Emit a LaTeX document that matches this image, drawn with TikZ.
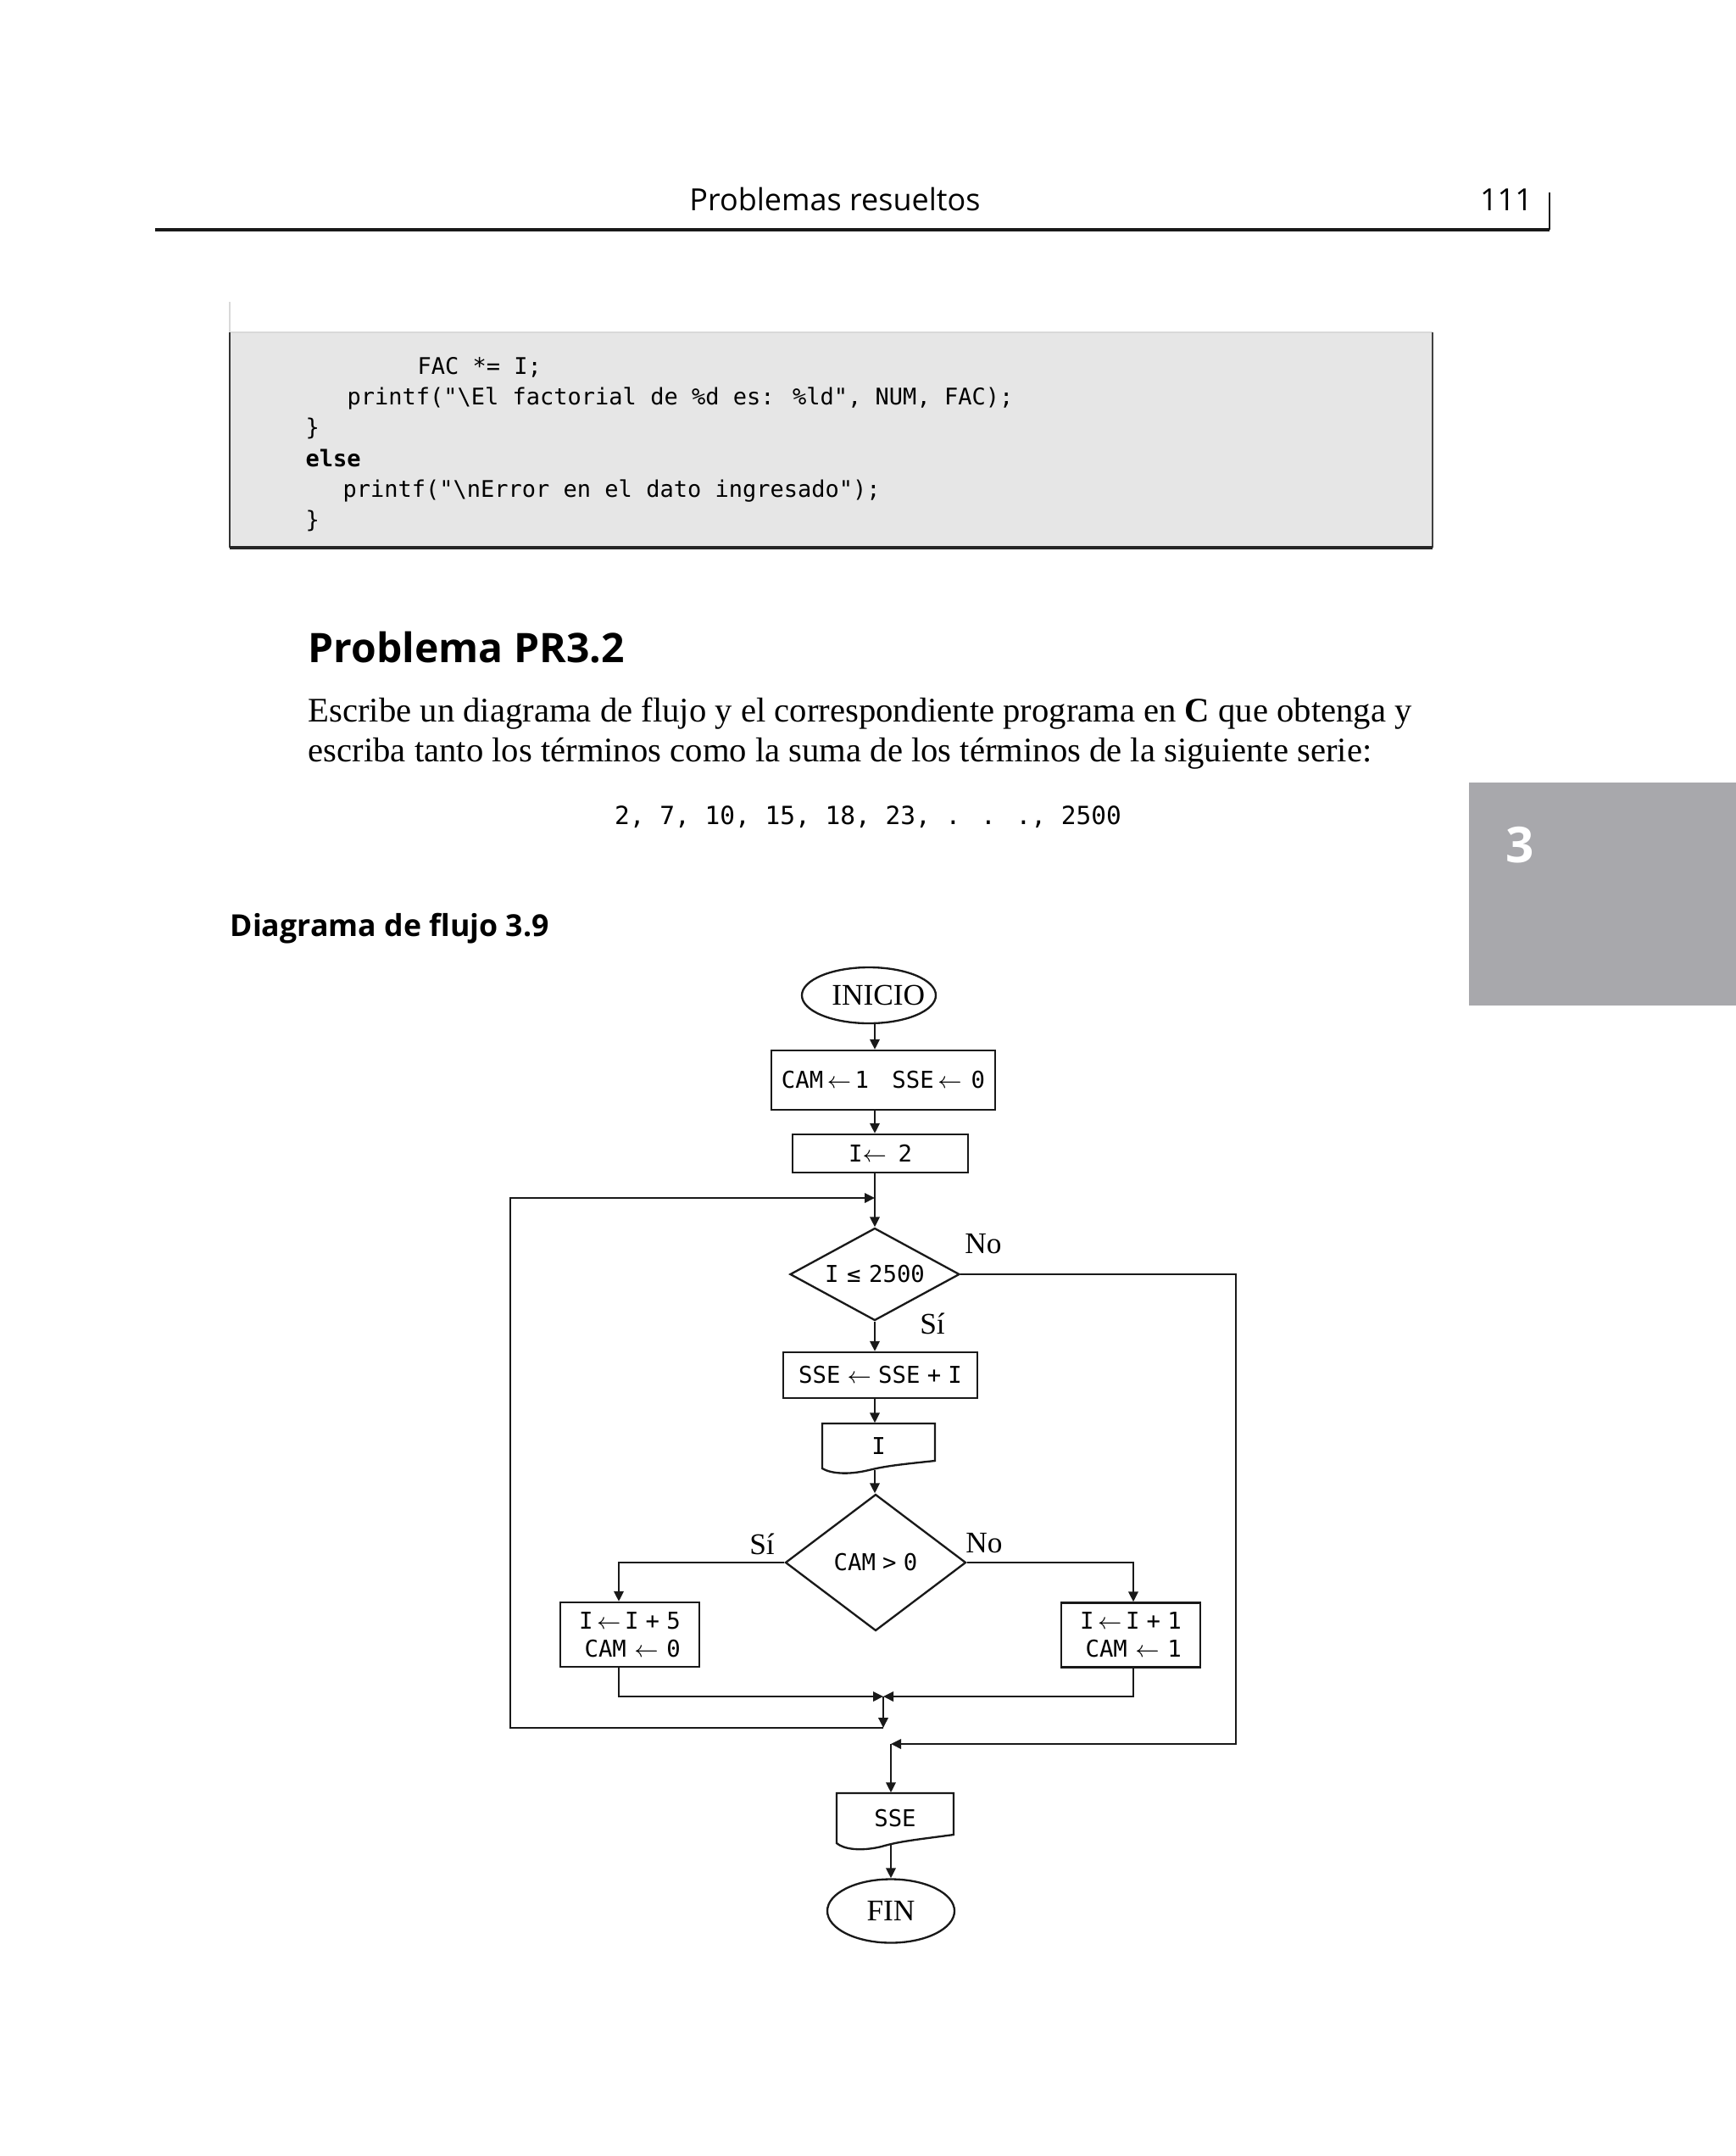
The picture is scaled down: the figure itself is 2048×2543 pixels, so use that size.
\documentclass[tikz,border=0pt]{standalone}
\usepackage{fontspec}
\setmainfont{Liberation Serif}
\newfontfamily\codefont{DejaVu Sans Mono}[Ligatures=TeXOff]
\newfontfamily\headfont{Open Sans}
\usetikzlibrary{shapes.geometric,arrows.meta,calc}
\definecolor{tabgray}{RGB}{168,168,172}
\definecolor{codebg}{RGB}{230,230,230}
\tikzset{
 flow/.style={line width=0.7pt, draw=black!90},
 arr/.style={flow, -{Triangle[length=3.6pt,width=3.4pt]}},
 procbox/.style={flow, draw, rectangle, inner sep=0pt, font=\codefont\fontsize{8.2}{9.9}\selectfont},
 term/.style={flow, draw, ellipse, inner sep=0pt, font=\fontsize{10.6}{12}\selectfont},
 decision/.style={flow, draw, diamond, inner sep=0pt, font=\codefont\fontsize{8.2}{9.9}\selectfont},
 docnode/.style={inner sep=0pt, font=\codefont\fontsize{8.2}{9.9}\selectfont},
 lbl/.style={inner sep=0pt, font=\fontsize{10.6}{12}\selectfont},
 codeline/.style={anchor=base west, inner sep=0pt, font=\codefont\fontsize{8.1}{10}\selectfont},
 bodytext/.style={anchor=base west, inner sep=0pt, font=\fontsize{12.2}{15}\selectfont},
}
\begin{document}
\begin{tikzpicture}[x=0.3pt,y=-0.3pt]
\useasboundingbox (0,0) rectangle (2048,2543);
% running head
\node[anchor=base, inner sep=0pt, font=\headfont\fontsize{10.8}{13}\selectfont] (hdr) at (985,248) {Problemas resueltos};
\node[anchor=base, inner sep=0pt, font=\headfont\fontsize{10.8}{13}\selectfont] (pg) at (1777,248) {111};
\draw[line width=1.2pt, black!90] (183,271) -- (1828,271);
\draw[line width=0.6pt, black!90] (1828,227) -- (1828,271);
% code box
\fill[codebg] (271,392) rectangle (1690,646);
\draw[line width=0.5pt, black!15] (271,356) -- (271,392) -- (1690,392);
\draw[line width=0.7pt, black!80] (271,392) -- (271,646);
\draw[line width=0.6pt, black!75] (1690,392) -- (1690,646);
\draw[line width=1.1pt, black!85] (271,646) -- (1690,646);
\node[codeline] (c1) at (492,441) {FAC *= I;};
\node[codeline] (c2) at (409,477) {printf("\textbackslash El factorial de \%d es: \%ld", NUM, FAC);};
\node[codeline] (c3) at (360,513) {\}};
\node[codeline, font=\codefont\bfseries\fontsize{8.1}{10}\selectfont] (c4) at (360,550) {else};
\node[codeline] (c5) at (404,586) {printf("\textbackslash nError en el dato ingresado");};
\node[codeline] (c6) at (360,622) {\}};
% heading and statement
\node[anchor=base west, inner sep=0pt, font=\headfont\bfseries\fontsize{14.4}{18}\selectfont] (ttl) at (363,781) {Problema PR3.2};
\node[bodytext] (p1) at (363,851) {Escribe un diagrama de flujo y el correspondiente programa en \textbf{C} que obtenga y};
\node[bodytext] (p2) at (363,898) {escriba tanto los términos como la suma de los términos de la siguiente serie:};
\node[anchor=base, inner sep=0pt, font=\codefont\fontsize{8.85}{10}\selectfont] (ser) at (1024,972) {2, 7, 10, 15, 18, 23, . . ., 2500};
\node[anchor=base west, inner sep=0pt, font=\headfont\bfseries\fontsize{10.7}{13}\selectfont] (dlbl) at (271,1104) {Diagrama de flujo 3.9};
% chapter tab
\fill[tabgray] (1733,923) rectangle (2048,1186);
\node[text=white, inner sep=0pt, font=\headfont\bfseries\fontsize{17.5}{20}\selectfont] (tabn) at (1793,997) {3};
% flowchart nodes
\coordinate (axis) at (1032,0);
\node[term, minimum width=47.4pt, minimum height=19.8pt] (inicio) at (1025,1174) {\makebox[33pt][l]{\hspace{3.4pt}INICIO}};
\node[procbox, minimum width=79.2pt, minimum height=21pt] (b1) at (1042,1274) {CAM\,$\leftarrow$\,1\hspace{1em}SSE\,$\leftarrow$\hspace{.4em}0};
\node[procbox, minimum width=62.1pt, minimum height=13.5pt] (b2) at (1038.5,1360.5) {I$\leftarrow$\enspace2};
\coordinate (loopin) at (1032,1413);
\node[decision, shape aspect=1.83, minimum width=60pt, minimum height=32.7pt] (d1) at (1032,1503) {I\hspace{.35em}≤\hspace{.35em}2500};
\node[lbl] (no1) at (1160,1467) {No};
\node[lbl] (si1) at (1100,1561) {Sí};
\node[procbox, minimum width=68.7pt, minimum height=16.2pt] (b3) at (1038.5,1622) {SSE\hspace{.3em}$\leftarrow$\hspace{.3em}SSE\hspace{.3em}+\hspace{.3em}I};
\node[docnode, minimum width=39.9pt, minimum height=16.2pt] (docI) at (1036.5,1706) {I};
\node[decision, shape aspect=1.32, minimum width=63.9pt, minimum height=48.3pt] (d2) at (1033,1843) {CAM\hspace{.3em}>\hspace{.3em}0};
\node[lbl] (si2) at (899,1821) {Sí};
\node[lbl] (no2) at (1161,1820) {No};
\node[procbox, minimum width=49.2pt, minimum height=22.8pt, align=right] (bl) at (743,1928) {I\,$\leftarrow$\,I\hspace{.3em}+\hspace{.3em}5\\CAM\hspace{.35em}$\leftarrow$\hspace{.35em}0};
\node[procbox, minimum width=49.2pt, minimum height=22.8pt, align=right] (br) at (1334,1928.5) {I\,$\leftarrow$\,I\hspace{.3em}+\hspace{.3em}1\\CAM\hspace{.35em}$\leftarrow$\hspace{.35em}1};
\coordinate (lcol) at (730,0);
\coordinate (rcol) at (1337,0);
\coordinate (merge) at (1042,2001);
\coordinate (loopc) at (1042,2038);
\coordinate (loopL) at (602,2038);
\coordinate (noR) at (1458,2057);
\coordinate (exitc) at (1051,2057);
\node[docnode, minimum width=41.4pt, minimum height=18pt] (docS) at (1056,2145) {SSE};
\node[term, minimum width=45pt, minimum height=22.5pt] (fin) at (1051,2254) {FIN};
% document outlines
\draw[flow] (970,1679) -- (1103,1679) -- (1103,1723) .. controls (1065,1727) and (1045,1729) .. (1025,1734) .. controls (1000,1740) and (980,1738) .. (970,1732) -- cycle;
\draw[flow] (987,2115) -- (1125,2115) -- (1125,2164) .. controls (1080,2170) and (1060,2172) .. (1040,2178) .. controls (1015,2184) and (995,2181) .. (987,2174) -- cycle;
% connectors
\draw[arr] (inicio.south -| axis) -- (b1.north -| axis);
\draw[arr] (b1.south -| axis) -- (b2.north -| axis);
\draw[arr] (b2.south -| axis) -- (d1.north);
\draw[arr] (d1.south) -- (b3.north -| axis);
\draw[arr] (b3.south -| axis) -- (docI.north -| axis);
\draw[arr] (docI.south -| axis) -- (d2.north -| axis);
\draw[arr] (d2.west) -| (bl.north -| lcol);
\draw[arr] (d2.east) -| (br.north -| rcol);
\draw[arr] (bl.south -| lcol) |- (merge);
\draw[arr] (br.south -| rcol) |- (merge);
\draw[arr] (merge) -- (loopc);
\draw[arr] (loopc) -- (loopL) |- (loopin);
\draw[arr] (d1.east) -| (noR) -- (exitc);
\draw[arr] (exitc) -- (docS.north -| exitc);
\draw[arr] (docS.south -| exitc) -- (fin.north);
\end{tikzpicture}
\end{document}
